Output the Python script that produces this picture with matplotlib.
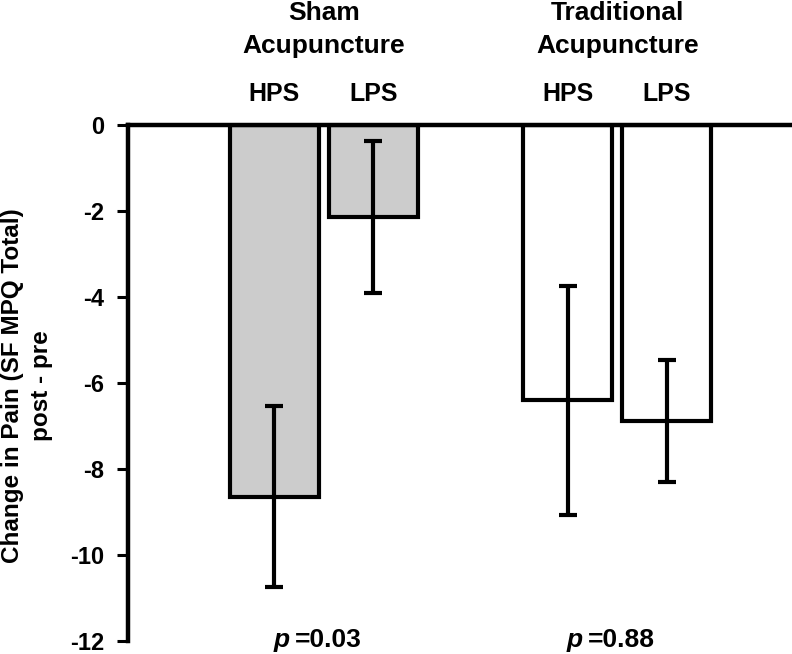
import matplotlib.pyplot as plt
import numpy as np

# values (change in SF-MPQ total, post - pre)
groups = ['Sham\nAcupuncture', 'Traditional\nAcupuncture']
subgroups = ['HPS', 'LPS']
sham_mean = [-8.64, -2.14]
sham_err = [2.11, 1.77]
trad_mean = [-6.40, -6.89]
trad_err = [2.66, 1.42]
p_values = ['0.03', '0.88']
yticks = [0, -2, -4, -6, -8, -10, -12]

plt.rcParams['font.family'] = ['Liberation Sans', 'DejaVu Sans']
plt.rcParams['font.weight'] = 'bold'

fig = plt.figure(figsize=(7.92, 6.54), dpi=100)
ax = fig.add_axes([128 / 792, 13 / 654, 664 / 792, 516 / 654])

group_x = np.array([2.95, 7.37])
offset = 0.745
width = 1.34
fills = ['#cccccc', 'white']
means = [sham_mean, trad_mean]
errs = [sham_err, trad_err]
trans = ax.get_xaxis_transform()

for g in range(2):
    xs = group_x[g] + np.array([-offset, offset])
    ax.bar(xs, means[g], width, color=fills[g], edgecolor='black',
           linewidth=3, zorder=2)
    ax.errorbar(xs, means[g], yerr=errs[g], fmt='none', ecolor='black',
                elinewidth=3, capsize=6.8, capthick=3, zorder=3)
    for xx, name in zip(xs, subgroups):
        ax.text(xx, 1.0465, name, transform=trans, ha='center', va='baseline',
                fontsize=18, fontweight='bold')
    # two-line group title, each line placed on its own baseline
    line1, line2 = groups[g].split('\n')
    ax.text(group_x[g], 1.2035, line1, transform=trans, ha='center',
            va='baseline', fontsize=19, fontweight='bold')
    ax.text(group_x[g], 1.1395, line2, transform=trans, ha='center',
            va='baseline', fontsize=19, fontweight='bold')
    ax.text(group_x[g] - 0.52, -0.0116, 'p', transform=trans, ha='right',
            va='baseline', fontsize=19, fontweight='bold', style='italic')
    ax.text(group_x[g] - 0.44, -0.0116, '=' + p_values[g], transform=trans,
            ha='left', va='baseline', fontsize=19, fontweight='bold')

ax.set_xlim(0, 10)
ax.set_ylim(-12, 0)
ax.set_yticks(yticks)
ax.set_yticklabels([str(t) for t in yticks], fontsize=17, fontweight='bold')
ax.set_xticks([])
ax.tick_params(axis='y', direction='out', length=8, width=2.2, pad=9)

for s in ['right', 'bottom']:
    ax.spines[s].set_visible(False)
ax.spines['left'].set_linewidth(3.2)
ax.spines['top'].set_linewidth(3.2)

fig.text(27 / 792, 1 - 386 / 654, 'Change in Pain (SF MPQ Total)\npost - pre',
         rotation=90, ha='center', va='center', fontsize=17.5,
         fontweight='bold', linespacing=1.3)

fig.savefig('out.png', dpi=100)
